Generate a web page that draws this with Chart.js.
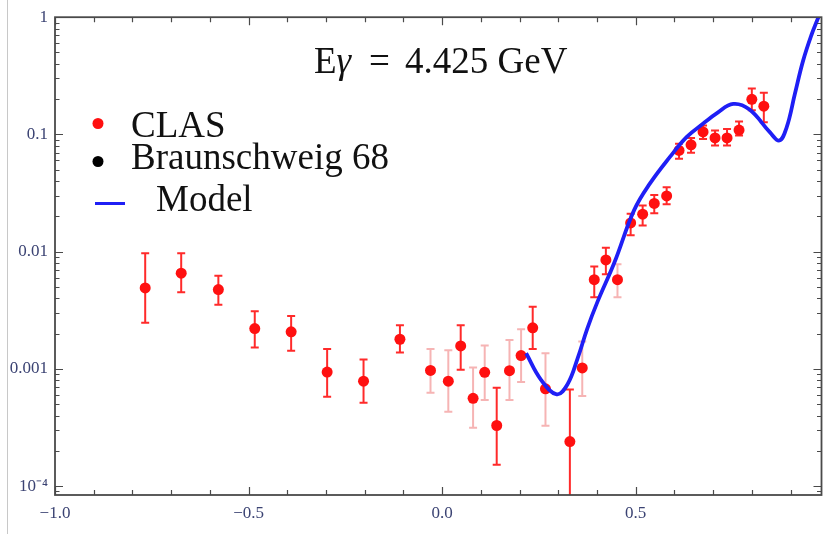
<!DOCTYPE html>
<html>
<head>
<meta charset="utf-8">
<script src="https://cdn.jsdelivr.net/npm/chart.js@4.4.0/dist/chart.umd.min.js"></script>
<style>
  html, body { margin: 0; padding: 0; background: #fff; }
  #wrap { position: relative; width: 827px; height: 534px; }
  #edge { position: absolute; left: 7px; top: 0; width: 1px; height: 534px; background: #c8c8c8; }
</style>
</head>
<body>
<div id="wrap">
  <canvas id="chart" width="827" height="534"></canvas>
  <div id="edge"></div>
</div>
<script>
// CLAS points (cos theta, cross section) with error bar ends
const clasX = [-0.767, -0.674, -0.578, -0.484, -0.390, -0.297, -0.203, -0.109, -0.030, 0.016, 0.048, 0.080, 0.110, 0.141, 0.174, 0.204, 0.234, 0.267, 0.330, 0.362, 0.393, 0.423, 0.453, 0.487, 0.518, 0.548, 0.580, 0.612, 0.643, 0.674, 0.705, 0.736, 0.767, 0.800, 0.831];
const clasY = [0.00490, 0.00656, 0.00475, 0.00221, 0.00207, 0.000940, 0.000785, 0.00179, 0.000971, 0.000785, 0.00157, 0.000561, 0.000934, 0.000329, 0.000966, 0.00130, 0.00224, 0.000676, 0.000240, 0.00102, 0.00577, 0.00851, 0.00577, 0.0176, 0.0209, 0.0258, 0.0299, 0.0730, 0.0815, 0.105, 0.0934, 0.0934, 0.109, 0.1995, 0.174];
const clasHigh = [0.00968, 0.00968, 0.00624, 0.00310, 0.00283, 0.00148, 0.00120, 0.00236, 0.00148, 0.00144, 0.00236, 0.00103, 0.00158, 0.000689, 0.00176, 0.00218, 0.00339, 0.00136, 0.000667, 0.00171, 0.00747, 0.0108, 0.00781, 0.0211, 0.0248, 0.0305, 0.0354, 0.0832, 0.0934, 0.119, 0.108, 0.111, 0.129, 0.247, 0.227];
const clasLow = [0.00248, 0.00451, 0.00352, 0.00152, 0.00143, 0.000578, 0.000514, 0.00138, 0.000625, 0.000430, 0.000985, 0.000315, 0.000542, 0.000152, 0.000542, 0.000774, 0.00148, 0.000327, 0.00005, 0.000586, 0.00409, 0.00643, 0.00409, 0.0138, 0.0167, 0.0213, 0.0254, 0.0621, 0.0698, 0.0916, 0.0804, 0.0804, 0.0977, 0.161, 0.127];
// error bars drawn pale in the original
const clasFaint = [0, 0, 0, 0, 0, 0, 0, 0, 1, 1, 0, 1, 1, 0, 1, 1, 0, 1, 0, 1, 0, 0, 1, 0, 0, 0, 0, 0, 0, 0, 0, 0, 0, 0, 0];

// Model curve
const modelX = [0.217, 0.255, 0.296, 0.324, 0.350, 0.375, 0.401, 0.445, 0.496, 0.537, 0.589, 0.632, 0.676, 0.710, 0.752, 0.794, 0.847, 0.871, 0.890, 0.911, 0.932, 0.954, 0.972];
const modelY = [0.00136, 0.000811, 0.000606, 0.000740, 0.00123, 0.00221, 0.00371, 0.00807, 0.0226, 0.0382, 0.0646, 0.0953, 0.125, 0.152, 0.182, 0.163, 0.104, 0.0887, 0.115, 0.220, 0.420, 0.705, 1.0];

const xTickValues = [-1.0, -0.5, 0.0, 0.5];
const xTickLabels = ['\u22121.0', '\u22120.5', '0.0', '0.5'];
const yTickValues = [1e-4, 1e-3, 1e-2, 0.1, 1];
const yTickLabels = ['10\u207B\u2074', '0.001', '0.01', '0.1', '1'];

const titleParts = ['E', '\u03B3', '=', '4.425 GeV'];

const SERIF = '"Liberation Serif", "Times New Roman", serif';
const LABEL_COLOR = '#3b4373';
const FRAME_COLOR = '#4a4a4a';

const errorBars = {
    id: 'errorBars',
    beforeDatasetsDraw(chart) {
        const { ctx, chartArea, scales: { x, y } } = chart;
        ctx.save();
        ctx.beginPath();
        ctx.rect(chartArea.left, chartArea.top, chartArea.right - chartArea.left, chartArea.bottom - chartArea.top);
        ctx.clip();
        ctx.lineWidth = 2;
        for (let i = 0; i < clasX.length; i++) {
            const px = x.getPixelForValue(clasX[i]);
            const top = y.getPixelForValue(clasHigh[i]);
            const bot = y.getPixelForValue(clasLow[i]);
            ctx.strokeStyle = clasFaint[i] ? '#f6b4b4' : '#ff2a2a';
            ctx.beginPath();
            ctx.moveTo(px, top); ctx.lineTo(px, bot);
            ctx.moveTo(px - 4, top); ctx.lineTo(px + 4, top);
            ctx.moveTo(px - 4, bot); ctx.lineTo(px + 4, bot);
            ctx.stroke();
        }
        ctx.restore();
    }
};

// Mathematica style frame with ticks pointing inward
const frame = {
    id: 'frame',
    afterDraw(chart) {
        const { ctx, chartArea: a, scales: { x, y } } = chart;
        ctx.save();
        ctx.strokeStyle = FRAME_COLOR;
        ctx.lineWidth = 1.2;
        ctx.beginPath();
        for (let i = -10; i <= 9; i++) {
            const v = i / 10;
            const px = Math.round(x.getPixelForValue(v)) + 0.5;
            const len = i % 5 === 0 ? 8 : 5;
            ctx.moveTo(px, a.bottom); ctx.lineTo(px, a.bottom - len);
            ctx.moveTo(px, a.top); ctx.lineTo(px, a.top + len);
        }
        for (let k = -5; k <= 0; k++) {
            for (let m = 1; m <= 9; m++) {
                const v = m * Math.pow(10, k);
                if (v < y.min || v > y.max) continue;
                const py = Math.round(y.getPixelForValue(v)) + 0.5;
                const len = m === 1 ? 8 : 4.5;
                ctx.moveTo(a.left, py); ctx.lineTo(a.left + len, py);
                ctx.moveTo(a.right, py); ctx.lineTo(a.right - len, py);
            }
        }
        ctx.stroke();
        ctx.lineWidth = 1.8;
        ctx.strokeRect(a.left, a.top, a.right - a.left, a.bottom - a.top);
        ctx.restore();
    }
};

const titleAndLegend = {
    id: 'titleAndLegend',
    afterDraw(chart) {
        const { ctx } = chart;
        ctx.save();
        ctx.fillStyle = '#111';
        ctx.textBaseline = 'alphabetic';
        // title pieces: E, italic gamma, =, rest
        const up = '37px ' + SERIF, it = 'italic 37px ' + SERIF;
        ctx.font = up; ctx.fillText(titleParts[0], 314, 73);
        const wE = ctx.measureText(titleParts[0]).width;
        ctx.font = it; ctx.fillText(titleParts[1], 314 + wE, 73);
        ctx.font = up;
        ctx.fillText(titleParts[2], 369, 73);
        ctx.fillText(titleParts[3], 405, 73);

        // legend
        ctx.font = '37px ' + SERIF;
        chart.data.datasets.forEach(d => {
            const r = d.legendRow;
            if (d.type === 'line') {
                ctx.strokeStyle = d.borderColor;
                ctx.lineWidth = 3;
                ctx.beginPath(); ctx.moveTo(95, r.marker); ctx.lineTo(125, r.marker); ctx.stroke();
            } else {
                ctx.fillStyle = d.backgroundColor;
                ctx.beginPath(); ctx.arc(98, r.marker, 5.5, 0, Math.PI * 2); ctx.fill();
            }
            ctx.fillStyle = '#111';
            ctx.fillText(d.label, r.textX, r.baseline);
        });
        ctx.restore();
    }
};

new Chart(document.getElementById('chart'), {
    data: {
        datasets: [
            {
                type: 'scatter',
                label: 'CLAS',
                order: 1,
                data: clasX.map((v, i) => ({ x: v, y: clasY[i] })),
                backgroundColor: '#ff1010',
                borderWidth: 0,
                pointRadius: 5.5,
                legendRow: { marker: 123.5, baseline: 137, textX: 131 }
            },
            {
                type: 'scatter',
                label: 'Braunschweig 68',
                order: 2,
                data: [],
                backgroundColor: '#000000',
                borderWidth: 0,
                pointRadius: 5.5,
                legendRow: { marker: 161.5, baseline: 169, textX: 131 }
            },
            {
                type: 'line',
                label: 'Model',
                order: 0,
                data: modelX.map((v, i) => ({ x: v, y: modelY[i] })),
                borderColor: '#1f1ff5',
                borderWidth: 3.8,
                pointRadius: 0,
                fill: false,
                tension: 0.4,
                legendRow: { marker: 203.5, baseline: 211, textX: 156 }
            }
        ]
    },
    options: {
        responsive: false,
        animation: false,
        layout: { padding: { top: 12, right: 2, left: 0, bottom: 0 } },
        plugins: {
            legend: { display: false },
            tooltip: { enabled: false },
            title: { display: false }
        },
        scales: {
            x: {
                type: 'linear',
                min: -1,
                max: 0.98,
                grid: { display: false, drawTicks: false, tickLength: 0 },
                border: { display: false },
                afterBuildTicks: s => { s.ticks = xTickValues.map(v => ({ value: v })); },
                afterFit: s => { s.height = 39; },
                ticks: {
                    padding: 8,
                    color: LABEL_COLOR,
                    font: { family: SERIF, size: 17 },
                    maxRotation: 0,
                    autoSkip: false,
                    callback: v => xTickLabels[xTickValues.indexOf(v)]
                }
            },
            y: {
                type: 'logarithmic',
                min: 8.4e-5,
                max: 1,
                grid: { display: false, drawTicks: false, tickLength: 0 },
                border: { display: false },
                afterBuildTicks: s => { s.ticks = yTickValues.map(v => ({ value: v })); },
                afterFit: s => { s.width = 55; },
                ticks: {
                    padding: 7,
                    color: LABEL_COLOR,
                    font: { family: SERIF, size: 17 },
                    autoSkip: false,
                    callback: v => yTickLabels[yTickValues.indexOf(v)]
                }
            }
        }
    },
    plugins: [errorBars, frame, titleAndLegend]
});
</script>
</body>
</html>
